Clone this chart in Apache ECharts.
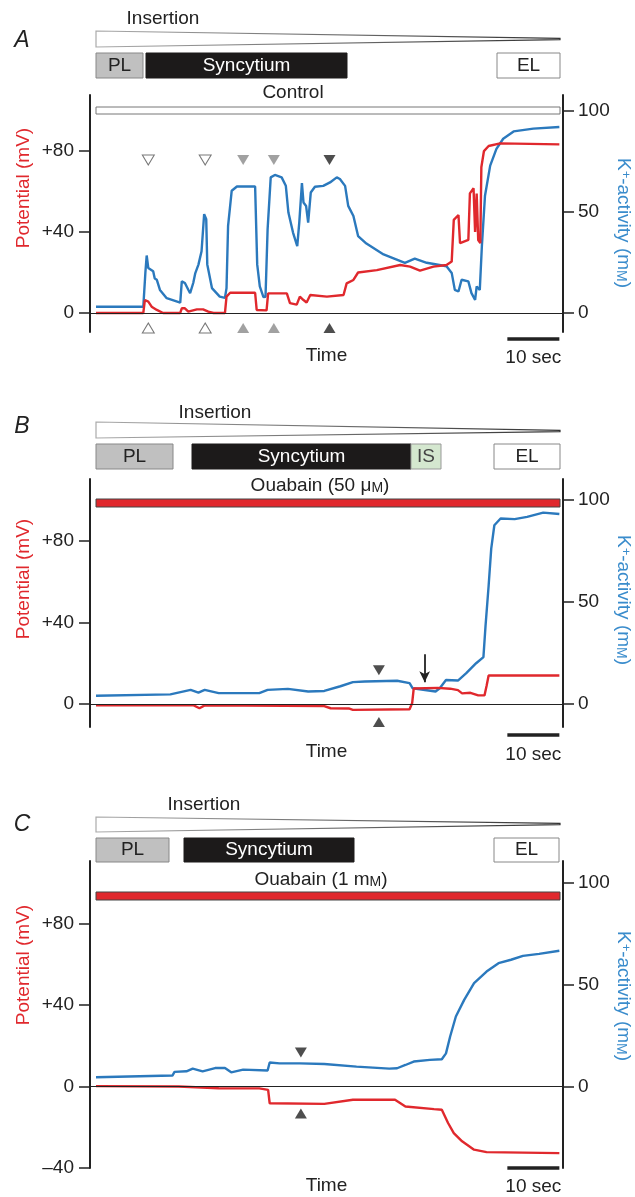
<!DOCTYPE html>
<html>
<head>
<meta charset="utf-8">
<style>
    html, body {margin: 0; padding: 0; background: #fff;}
    #chart {width: 635px; height: 1197px;}
</style>
<script src="https://cdn.jsdelivr.net/npm/echarts@6.0.0/dist/echarts.min.js"></script>
</head>
<body>
<div id="chart"></div>
<script>
/**
 * Trace data, [time (s), value]
 */
// A: control
var vTraceA = [[0,0],[9.1,0],[9.4,6.4],[10.06,5.6],[10.7,3.1],[11.7,1.5],[12.9,0],[16.2,0],[16.5,2.3],[17.1,2.3],[17.75,0.7],[19.4,1.8],[20.6,1.8],[21.6,0.7],[22.6,0],[24.8,0],[25.1,8.1],[25.8,10],[30.6,10],[30.9,1.5],[32.8,1.3],[33.1,9.7],[36.7,9.7],[37.3,4.9],[38.6,4.1],[39.2,8.1],[39.9,6.4],[40.5,5.2],[41.2,8.9],[41.5,8.1],[44.4,8.1],[47.6,8.9],[48.2,14.6],[49.5,16.3],[50.4,20],[54.0,21.2],[58.5,23.7],[60.4,22.9],[62.3,20.9],[64.9,22.9],[67.4,23.7],[68.4,25.4],[68.8,46],[69.7,48.4],[70.0,34.5],[71.6,36.1],[71.9,59.1],[72.6,61.6],[72.9,40],[73.2,59],[73.5,36],[73.9,34.5],[74.1,72],[74.6,80],[75.5,82.5],[77.7,83.8],[89.1,83.3]];
var kTraceA = [[0,3.1],[9.1,3.1],[9.5,20],[9.75,28.4],[10.06,22.2],[10.4,21.5],[11.0,20.6],[11.3,17],[11.7,16.4],[12.3,11.4],[13.6,7.3],[16.2,5.1],[16.5,15.6],[17.1,14.8],[17.75,11.5],[18.1,9.8],[18.7,14.8],[19.1,19.7],[19.7,23.9],[20.0,23],[20.3,30.5],[20.8,48.8],[21.2,46.3],[21.4,24],[22.3,12.3],[23.8,8.1],[24.8,7.5],[25.1,12.3],[25.4,43],[26.1,60.4],[27.1,62.5],[30.6,62.5],[31.0,24],[31.5,13.1],[32.2,7.8],[32.6,8],[33.0,41.3],[33.6,67],[34.4,68.2],[35.7,67],[36.5,62.9],[37.0,49.6],[37.9,39.6],[38.7,33],[39.1,45],[39.6,64.2],[39.9,54.6],[40.4,52.9],[40.8,44.6],[41.3,59.5],[42.1,62.4],[43.7,62.8],[45.0,64.5],[46.3,67],[46.9,66.2],[47.9,62.8],[48.5,52.9],[49.5,47.9],[50.4,38],[52.0,34.3],[55.3,28.9],[59.4,24.8],[61.3,26.9],[63.6,24.8],[67.4,23.1],[68.4,19.8],[69.0,11.4],[69.7,10.6],[70.3,16.4],[71.6,15.6],[72.2,9.8],[72.9,6.5],[73.2,13.1],[73.8,11.4],[74.2,33],[74.8,57.9],[75.8,72.8],[77.0,81.1],[78.3,86.1],[80.3,89.7],[84.1,91.1],[89.1,91.9]];
// B: ouabain 50 uM
var vTraceB = [[0,-0.6],[18.7,-0.6],[19.9,-2.1],[20.9,-0.7],[43.9,-1],[45.1,-2.1],[48.6,-2.2],[49.4,-2.9],[60.3,-2.6],[60.8,0.5],[61.1,7.6],[65.7,7.9],[68.1,7.5],[69.6,6.8],[70.4,5.2],[72.0,5.5],[73.5,4.2],[74.7,4.2],[75.1,8.8],[75.5,14],[89.1,14]];
var kTraceB = [[0,4],[14.3,4.7],[18.2,6.9],[19.7,5.6],[20.9,6.9],[23.6,5.3],[31.4,5.3],[33.0,6.9],[36.9,7.4],[40.8,6.1],[43.9,6.4],[47.0,8.7],[49.4,10.7],[51.7,11.0],[57.9,11.4],[60.3,10.2],[60.9,7.7],[61.1,6.9],[65.3,6.1],[66.1,7.7],[67.3,11.8],[69.6,11.5],[71.2,15.1],[73.1,20],[74.5,23],[74.9,38.2],[75.5,58],[76.0,76.2],[76.6,87.7],[77.8,91],[80.5,90.7],[82.9,91.8],[86.0,93.9],[89.1,93.2]];
// C: ouabain 1 mM
var vTraceC = [[0,0.2],[15.9,0],[23.6,-0.8],[31.4,-0.9],[33.1,-1.6],[33.4,-8.2],[43.9,-8.5],[49.4,-6.5],[57.5,-6.5],[59.5,-9.8],[65.0,-11.1],[66.5,-11.4],[67.7,-17.9],[68.8,-22.9],[70.4,-26.9],[72.7,-31],[75.1,-32.2],[89.1,-32.7]];
var kTraceC = [[0,4.6],[14.7,5.4],[15.1,7.2],[17.4,7.5],[18.6,8.8],[20.5,7.5],[22.9,9.1],[24.8,9.1],[26.0,7],[28.3,8.3],[33.0,7.9],[33.4,11.8],[35.3,11.4],[39.2,11.4],[43.9,11.1],[50.1,9.8],[56.4,8.8],[57.9,9.0],[59.5,10.6],[61.1,12.3],[64.2,13.1],[66.5,13.4],[67.3,16.3],[68.1,24.6],[69.2,34.4],[70.8,42.6],[72.7,50.8],[75.1,56.5],[77.4,60.6],[79.8,62.3],[82.1,64.2],[85.2,65.2],[89.1,66.7]];

// arrowhead markers: times, kinds, and the levels (mV) of the upper / lower rows
var markTimesA = [10.06, 21.0, 28.3, 34.2, 44.9];
var markKindsA = ['open', 'open', 'gray', 'gray', 'black'];
var markLevelsA = [75.6, -7.4];
var markTimesB = [54.4];
var markKindsB = ['black'];
var markLevelsB = [16.6, -8.8];
var markTimesC = [39.4];
var markKindsC = ['black'];
var markLevelsC = [16.7, -13.2];

// arrow in B: time, from / to (mV)
var arrowB = [63.2, 24.4, 10.7];

// axis ticks
var vTicksAB = [0, 40, 80];
var vTicksC = [-40, 0, 40, 80];
var kTicks = [0, 50, 100];

// scale bar (s)
var scaleBarEnd = 89.1;
var scaleBarLen = 10;

/**
 * Styles and layout
 */
var FONT = '"Liberation Sans", Arial, Helvetica, sans-serif';
var RED = '#e0282d';
var BLUE = '#2b79bd';
var INK = '#222';
var markColors = {
    open: {color: '#fff', borderColor: '#555', borderWidth: 1},
    gray: {color: '#8a8a8a', borderColor: '#8a8a8a', borderWidth: 0},
    black: {color: '#222', borderColor: '#222', borderWidth: 0}
};

var panels = [
    {
        v: vTraceA, k: kTraceA, top: 95, bottom: 332, min: -9.4, max: 107.7, vTicks: vTicksAB, timeGap: 14,
        marks: markTimesA, kinds: markKindsA, levels: markLevelsA,
        letter: 'A', letterY: 41, insX: 163, insY: 19, wedge: [31, 47, 39],
        boxTop: 53, boxBot: 78,
        boxes: [{t: 'PL', x0: 96, x1: 143, kind: 'pl'}, {t: 'Syncytium', x0: 146, x1: 347, kind: 'syn'}, {t: 'EL', x0: 497, x1: 560, kind: 'el'}],
        cond: 'Control', condX: 293, condY: 93, barTop: 107, barBot: 114, barFill: '#fff', barStroke: '#777',
        vNameY: 188, kNameY: 223, scaleY: 339, secY: 358
    },
    {
        v: vTraceB, k: kTraceB, top: 479, bottom: 727, min: -11.3, max: 110.4, vTicks: vTicksAB, timeGap: 15,
        marks: markTimesB, kinds: markKindsB, levels: markLevelsB,
        letter: 'B', letterY: 427, insX: 215, insY: 413, wedge: [422, 438, 431],
        boxTop: 444, boxBot: 469,
        boxes: [{t: 'PL', x0: 96, x1: 173, kind: 'pl'}, {t: 'Syncytium', x0: 192, x1: 411, kind: 'syn'}, {t: 'IS', x0: 411, x1: 441, kind: 'is'}, {t: 'EL', x0: 494, x1: 560, kind: 'el'}],
        cond: 'Ouabain (50 \u03bc{sc|M})', condX: 320, condY: 486, barTop: 499, barBot: 507, barFill: RED, barStroke: '#444',
        vNameY: 579, kNameY: 600, scaleY: 735, secY: 755
    },
    {
        v: vTraceC, k: kTraceC, top: 861, bottom: 1168, min: -40, max: 110.8, vTicks: vTicksC, timeGap: 8,
        marks: markTimesC, kinds: markKindsC, levels: markLevelsC,
        letter: 'C', letterY: 825, insX: 204, insY: 805, wedge: [817, 832, 824],
        boxTop: 838, boxBot: 862,
        boxes: [{t: 'PL', x0: 96, x1: 169, kind: 'pl'}, {t: 'Syncytium', x0: 184, x1: 354, kind: 'syn'}, {t: 'EL', x0: 494, x1: 559, kind: 'el'}],
        cond: 'Ouabain (1 m{sc|M})', condX: 321, condY: 880, barTop: 892, barBot: 900, barFill: RED, barStroke: '#444',
        vNameY: 965, kNameY: 996, scaleY: 1168, secY: 1187
    }
];

var boxStyles = {
    pl: {fill: '#c0c0c0', stroke: '#888', text: INK},
    syn: {fill: '#1c1a1a', stroke: '#1c1a1a', text: '#fff'},
    is: {fill: '#d4e7cf', stroke: '#999', text: '#444'},
    el: {fill: '#fff', stroke: '#888', text: INK}
};

function tickText(v) {
    if (v > 0) return '+' + v;
    if (v < 0) return '\u2013' + Math.abs(v);
    return '0';
}

/**
 * Build the option
 */
function buildOption() {
    var option = {animation: false, backgroundColor: '#fff', grid: [], xAxis: [], yAxis: [], series: []};
    panels.forEach(function (p, i) {
        option.grid.push({left: 90, right: 72, top: p.top, height: p.bottom - p.top});
        option.xAxis.push({
            type: 'value', gridIndex: i, min: -1.15, max: 89.8,
            axisLine: {show: false}, axisTick: {show: false}, axisLabel: {show: false}, splitLine: {show: false},
            name: 'Time', nameLocation: 'middle', nameGap: p.timeGap,
            nameTextStyle: {fontFamily: FONT, fontSize: 19, color: INK}
        });
        var common = {
            type: 'value', gridIndex: i, min: p.min, max: p.max,
            axisLine: {show: true, onZero: false, lineStyle: {color: INK, width: 2}},
            splitLine: {show: false}
        };
        option.yAxis.push(echarts.util.merge({
            position: 'left',
            axisTick: {show: true, length: 11, customValues: p.vTicks, lineStyle: {color: INK, width: 1.5}},
            axisLabel: {customValues: p.vTicks, formatter: tickText, fontFamily: FONT, fontSize: 19, color: INK, margin: 16}
        }, common, true));
        option.yAxis.push(echarts.util.merge({
            position: 'right',
            axisTick: {show: true, length: 11, customValues: kTicks, lineStyle: {color: INK, width: 1.5}},
            axisLabel: {customValues: kTicks, fontFamily: FONT, fontSize: 19, color: INK, margin: 15}
        }, common, true));

        var zeroLine = [{yAxis: 0}];
        if (i === 1) {
            zeroLine.push([
                {coord: [arrowB[0], arrowB[1]], symbol: 'none', lineStyle: {color: INK, width: 1.8}},
                {coord: [arrowB[0], arrowB[2]], symbol: 'arrow', symbolSize: [8, 11]}
            ]);
        }
        option.series.push({
            type: 'line', xAxisIndex: i, yAxisIndex: 2 * i + 1, data: p.k, showSymbol: false, silent: true,
            lineStyle: {color: BLUE, width: 2.4}, z: 3
        });
        option.series.push({
            type: 'line', xAxisIndex: i, yAxisIndex: 2 * i, data: p.v, showSymbol: false, silent: true,
            lineStyle: {color: RED, width: 2.4}, z: 4,
            markLine: {
                silent: true, symbol: ['none', 'none'], label: {show: false}, animation: false,
                lineStyle: {color: INK, width: 1, type: 'solid'},
                emphasis: {disabled: true},
                data: zeroLine
            }
        });
        // arrowhead markers
        p.marks.forEach(function (t, j) {
            var st = markColors[p.kinds[j]];
            option.series.push({
                type: 'scatter', xAxisIndex: i, yAxisIndex: 2 * i, silent: true, z: 5,
                symbol: 'triangle', symbolSize: [12, 10], symbolRotate: 180,
                itemStyle: st, data: [[t, p.levels[0]]]
            });
            option.series.push({
                type: 'scatter', xAxisIndex: i, yAxisIndex: 2 * i, silent: true, z: 5,
                symbol: 'triangle', symbolSize: [12, 10],
                itemStyle: st, data: [[t, p.levels[1]]]
            });
        });
    });
    return option;
}

/**
 * Headers, names, scale bars
 */
function buildGraphics(chart) {
    var els = [];
    function text(x, y, str, size, color, extra) {
        var el = {
            type: 'text', x: x, y: y, silent: true,
            style: {text: str, fontFamily: FONT, fontSize: size, fill: color, align: 'center', verticalAlign: 'middle',
                rich: {
                    sc: {fontFamily: FONT, fontSize: 14, fill: color, verticalAlign: 'bottom'},
                    sup: {fontFamily: FONT, fontSize: 13, fill: color, verticalAlign: 'top'}
                }}
        };
        if (extra) echarts.util.extend(el, extra);
        els.push(el);
    }
    panels.forEach(function (p, i) {
        text(22, p.letterY, p.letter, 23, INK, {style: {text: p.letter, fontFamily: FONT, fontSize: 23, fontStyle: 'italic', fill: INK, align: 'center', verticalAlign: 'middle'}});
        text(p.insX, p.insY, 'Insertion', 19, INK);
        els.push({
            type: 'polygon', silent: true,
            shape: {points: [[96, p.wedge[0]], [560, p.wedge[2] - 0.6], [560, p.wedge[2] + 0.6], [96, p.wedge[1]]]},
            style: {fill: '#fff', lineWidth: 1.2, stroke: new echarts.graphic.LinearGradient(0, 0, 1, 0, [{offset: 0, color: '#aaa'}, {offset: 1, color: '#333'}])}
        });
        p.boxes.forEach(function (b) {
            var bs = boxStyles[b.kind];
            els.push({
                type: 'rect', silent: true,
                shape: {x: b.x0, y: p.boxTop, width: b.x1 - b.x0, height: p.boxBot - p.boxTop},
                style: {fill: bs.fill, stroke: bs.stroke, lineWidth: 1}
            });
            text((b.x0 + b.x1) / 2, (p.boxTop + p.boxBot) / 2, b.t, 19, bs.text);
        });
        text(p.condX, p.condY, p.cond, 19, INK);
        els.push({
            type: 'rect', silent: true,
            shape: {x: 96, y: p.barTop, width: 464, height: p.barBot - p.barTop},
            style: {fill: p.barFill, stroke: p.barStroke, lineWidth: 1}
        });
        text(24, p.vNameY, 'Potential (mV)', 19, RED, {rotation: Math.PI / 2});
        text(623, p.kNameY, 'K{sup|+}-activity (m{sc|M})', 19, '#3a8ccc', {rotation: -Math.PI / 2});
        // scale bar from the time axis
        var xa = chart.convertToPixel({xAxisIndex: i}, scaleBarEnd - scaleBarLen);
        var xb = chart.convertToPixel({xAxisIndex: i}, scaleBarEnd);
        els.push({
            type: 'line', silent: true,
            shape: {x1: xa, y1: p.scaleY, x2: xb, y2: p.scaleY},
            style: {stroke: INK, lineWidth: 3.5}
        });
        text((xa + xb) / 2, p.secY, '10 sec', 19, INK);
    });
    return els;
}

var chart = echarts.init(document.getElementById('chart'));
chart.setOption(buildOption());
chart.setOption({graphic: {elements: buildGraphics(chart)}});
</script>
</body>
</html>
